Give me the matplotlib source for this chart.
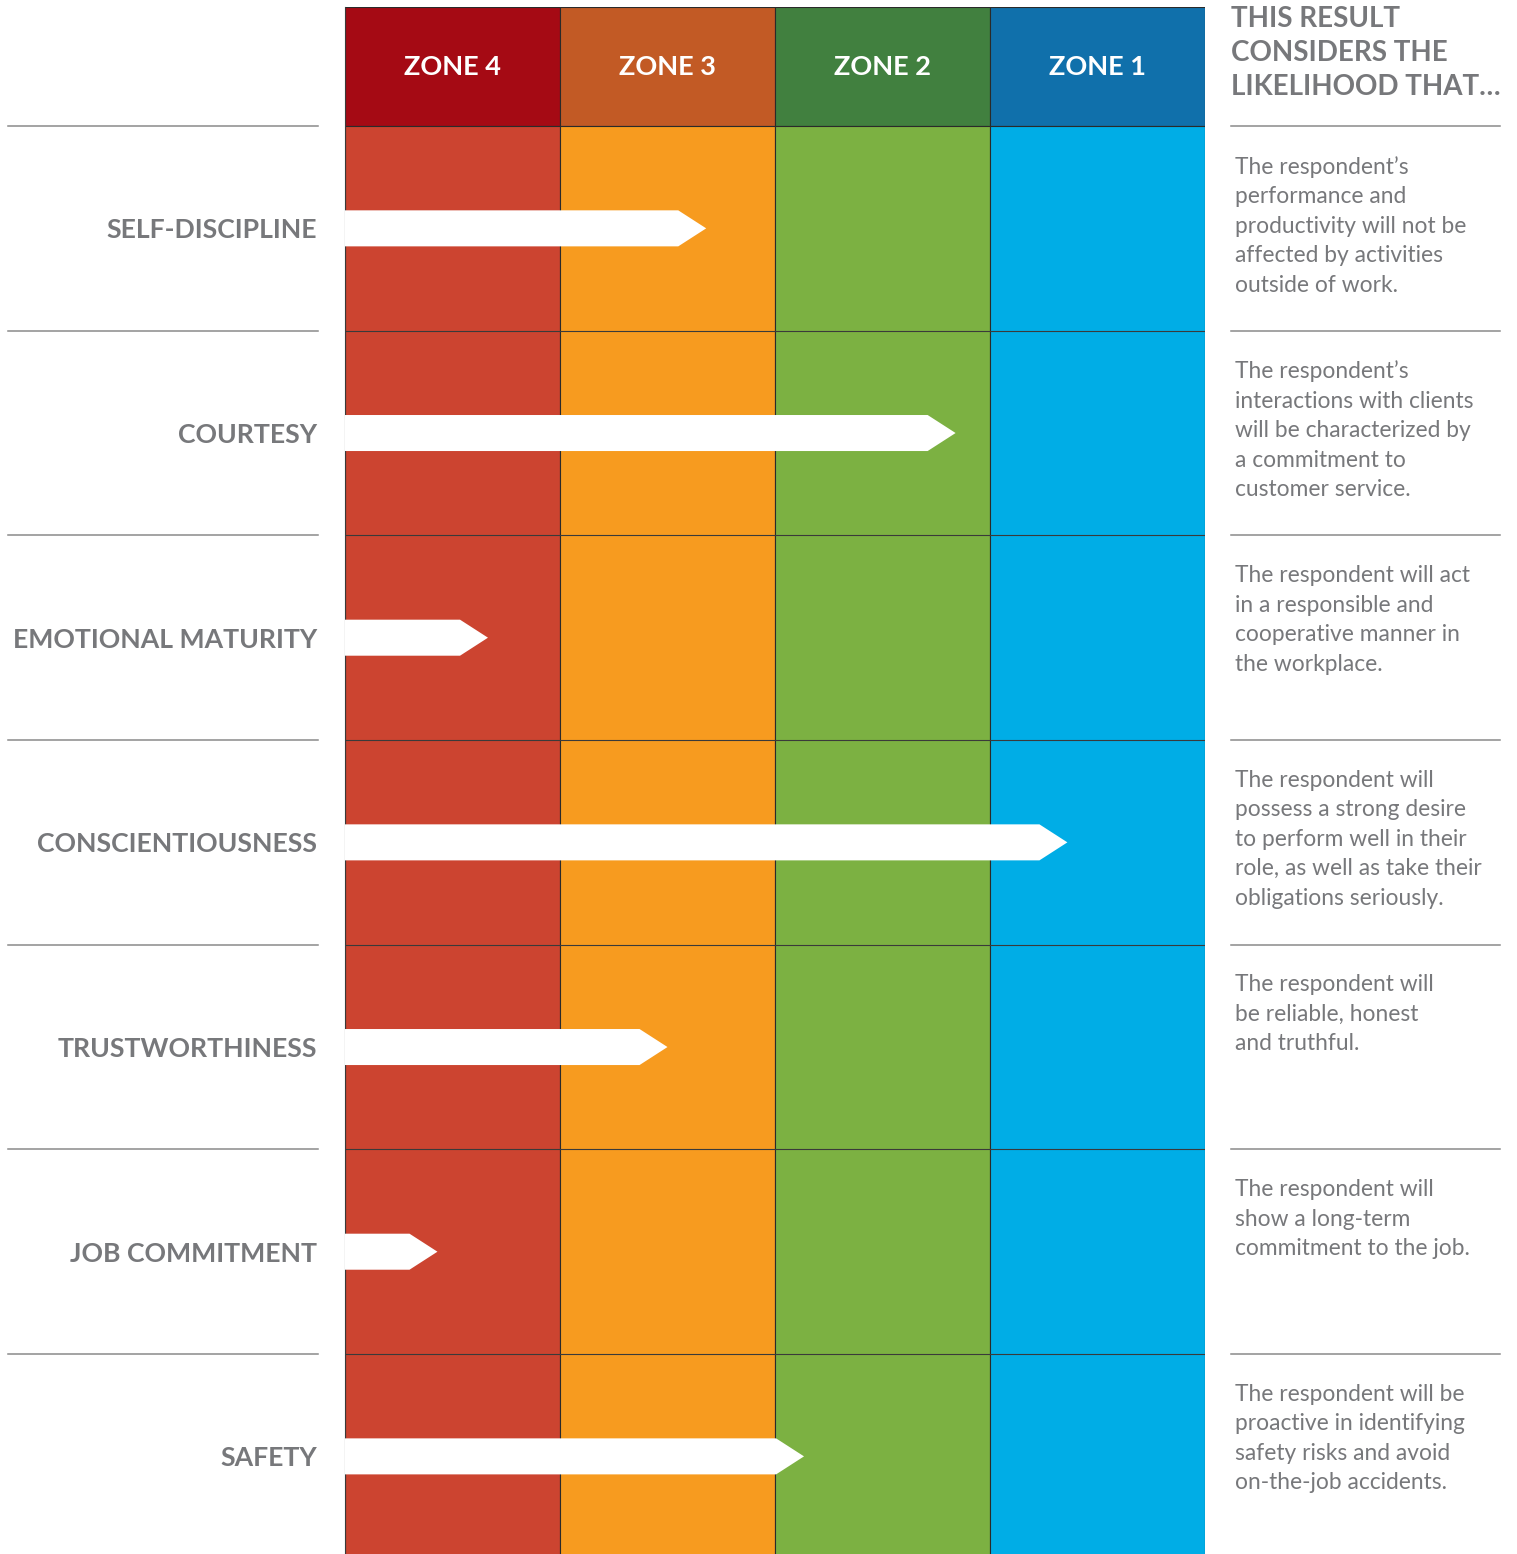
import numpy as np
import matplotlib
matplotlib.use('Agg')
import matplotlib.pyplot as plt

plt.rcParams['font.family'] = ['Lato', 'DejaVu Sans']

# Данные
zones = ['ZONE 4', 'ZONE 3', 'ZONE 2', 'ZONE 1']
head_colors = ['#a50a14', '#c25a25', '#41803f', '#1070ab']
body_colors = ['#cc4430', '#f79b1f', '#7cb142', '#00ade6']

traits = ['SELF-DISCIPLINE', 'COURTESY', 'EMOTIONAL MATURITY', 'CONSCIENTIOUSNESS',
          'TRUSTWORTHINESS', 'JOB COMMITMENT', 'SAFETY']
# положение кончика стрелки в единицах зон (0 = левый край зоны 4)
scores = [1.68, 2.84, 0.665, 3.36, 1.50, 0.43, 2.135]

descriptions = [
    "The respondent\u2019s\nperformance and\nproductivity will not be\naffected by activities\noutside of work.",
    "The respondent\u2019s\ninteractions with clients\nwill be characterized by\na commitment to\ncustomer service.",
    "The respondent will act\nin a responsible and\ncooperative manner in\nthe workplace.",
    "The respondent will\npossess a strong desire\nto perform well in their\nrole, as well as take their\nobligations seriously.",
    "The respondent will\nbe reliable, honest\nand truthful.",
    "The respondent will\nshow a long-term\ncommitment to the job.",
    "The respondent will be\nproactive in identifying\nsafety risks and avoid\non-the-job accidents.",
]
side_title = "THIS RESULT\nCONSIDERS THE\nLIKELIHOOD THAT\u2026"

gray = '#77787b'
W, H = 1517, 1554
fig = plt.figure(figsize=(W / 100, H / 100), dpi=100)
ax = fig.add_axes([345 / W, 0, 860 / W, 1 - 7 / H])

n = len(traits)
header_h = 0.5815
ax.set_xlim(0, 4)
ax.set_ylim(6.977, -header_h)

xs = np.arange(len(zones)) + 0.5
# шапка
ax.bar(xs, [header_h] * 4, width=1, bottom=-header_h, color=head_colors,
       edgecolor='#2a2a2a', linewidth=0.8, zorder=1)
# тело зон
ax.bar(xs, [n] * 4, width=1, bottom=0, color=body_colors,
       edgecolor='#2a2a2a', linewidth=0.8, zorder=1)
ax.hlines(np.arange(1, n), 0, 4, color='#3a3a3a', linewidth=0.8, zorder=2)

for x, z in zip(xs, zones):
    ax.text(x, -header_h / 2, z, color='white', fontsize=19.5, fontweight='bold',
            ha='center', va='center', zorder=3)

# стрелки
half = 0.088
head = 0.13
for i, s in enumerate(scores):
    yc = i + 0.5
    px = [0, s - head, s, s - head, 0]
    py = [yc - half, yc - half, yc, yc + half, yc + half]
    ax.fill(px, py, color='white', zorder=3, linewidth=0)

# подписи слева
ax.set_yticks(np.arange(n) + 0.5)
ax.set_yticklabels(traits, fontsize=19.2, fontweight='bold', color=gray)
ax.tick_params(axis='y', length=0, pad=20)
ax.set_xticks([])
for sp in ['top', 'bottom', 'right']:
    ax.spines[sp].set_visible(False)
ax.spines['left'].set_color('#3a3a3a')
ax.spines['left'].set_linewidth(0.8)

# разделители слева и справа
for yb in range(0, n):
    ax.axhline(yb, xmin=(8 - 345) / 860, xmax=(318 - 345) / 860, color='#8a8a8a',
               linewidth=1.1, clip_on=False)
    ax.axhline(yb, xmin=(1231 - 345) / 860, xmax=(1500 - 345) / 860, color='#8a8a8a',
               linewidth=1.1, clip_on=False)

tr = ax.get_yaxis_transform()
xr = (1235 - 345) / 860
for i, d in enumerate(descriptions):
    ax.text(xr, i + 0.145, d, transform=tr, fontsize=16.4, color=gray,
            ha='left', va='top', linespacing=1.5, clip_on=False)

ax.text((1231 - 345) / 860, -header_h - 0.005, side_title, transform=tr, fontsize=20,
        fontweight='bold', color=gray, ha='left', va='top', linespacing=1.38, clip_on=False)

fig.savefig('out.png', dpi=100)
